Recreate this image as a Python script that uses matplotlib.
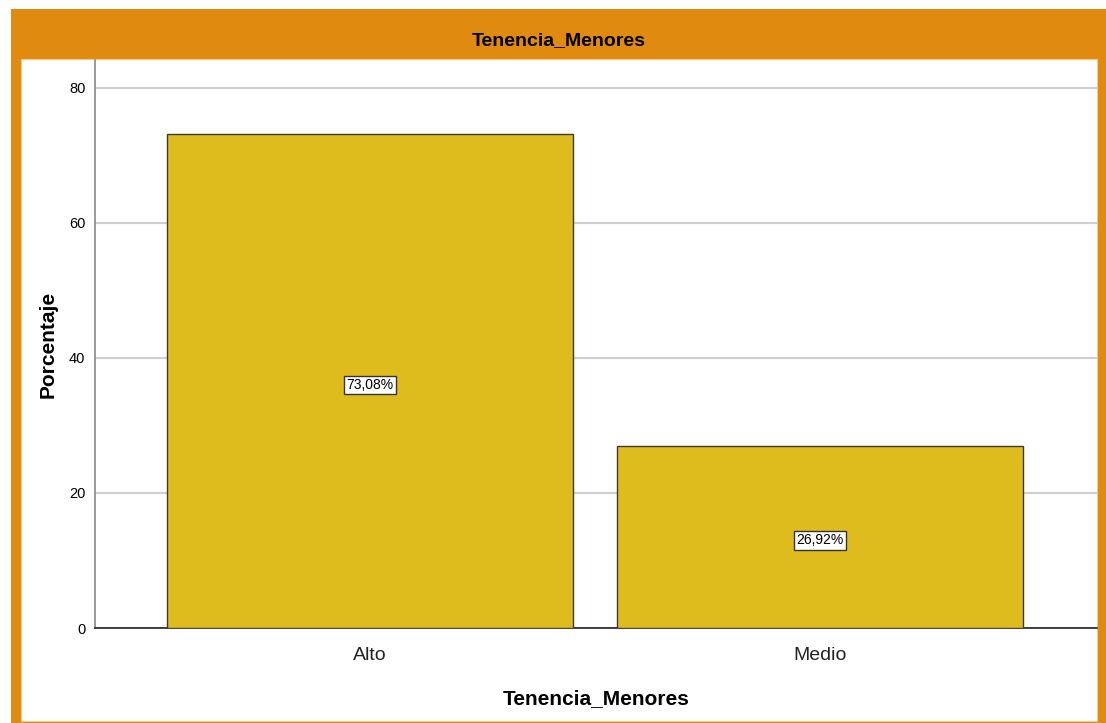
import matplotlib.pyplot as plt
import matplotlib.patches as patches

categories = ['Alto', 'Medio']
percentages = [73.08, 26.92]
value_labels = ['73,08%', '26,92%']
y_ticks = [0, 20, 40, 60, 80]

W, H = 1106, 723
ORANGE = '#E08A10'
GOLD = '#DFBC1E'

plt.rcParams['font.family'] = ['Liberation Sans', 'DejaVu Sans']

fig = plt.figure(figsize=(W / 100, H / 100), dpi=100)
fig.patch.set_facecolor('white')

# orange frame + white inner panel (pixel coords -> figure fraction)
def px_rect(x0, y0, x1, y1, **kw):
    return patches.Rectangle((x0 / W, 1 - y1 / H), (x1 - x0) / W, (y1 - y0) / H,
                             transform=fig.transFigure, **kw)

fig.patches.append(px_rect(11, 9, W, H, facecolor=ORANGE, edgecolor='none', zorder=0))
fig.patches.append(px_rect(21, 59, 1097, 721, facecolor='white', edgecolor='#F3C98A',
                           linewidth=0.8, zorder=1))

fig.text(559 / W, 1 - 41 / H, 'Tenencia_Menores', ha='center', va='center',
         fontsize=14, fontweight='bold', color='black')

# axes: x 95..1097, y 60..628
ax = fig.add_axes([95 / W, 1 - 628 / H, (1097 - 95) / W, (628 - 60) / H])
ax.set_facecolor('none')
ax.set_zorder(2)

x = list(range(len(categories)))
ax.bar(x, percentages, width=0.902, color=GOLD, edgecolor='#3a3a2a', linewidth=1.0, zorder=3)

for xi, v, lab in zip(x, percentages, value_labels):
    ax.text(xi, v / 2 - 0.5, lab, ha='center', va='center', fontsize=10, zorder=4,
            bbox=dict(boxstyle='square,pad=0.15', facecolor='white', edgecolor='#333333',
                      linewidth=1.0))

ax.set_xlim(-0.611, 1.616)
ax.set_ylim(0, 84.1)
ax.set_yticks(y_ticks)
ax.set_xticks(x)
ax.set_xticklabels(categories, fontsize=14, color='#222222')
ax.tick_params(axis='y', labelsize=10.5, length=0, pad=7)
ax.tick_params(axis='x', length=0, pad=14)
ax.yaxis.grid(True, color='#CFCFCF', linewidth=1.5, zorder=0)
ax.set_axisbelow(True)

for s in ['top', 'right']:
    ax.spines[s].set_visible(False)
ax.spines['left'].set_color('#888888')
ax.spines['left'].set_linewidth(1.2)
ax.spines['bottom'].set_color('#222222')
ax.spines['bottom'].set_linewidth(1.2)

ax.set_ylabel('Porcentaje', fontsize=15, fontweight='bold', labelpad=8)
ax.set_xlabel('Tenencia_Menores', fontsize=15, fontweight='bold', labelpad=18)

fig.savefig('out.png', dpi=100)
